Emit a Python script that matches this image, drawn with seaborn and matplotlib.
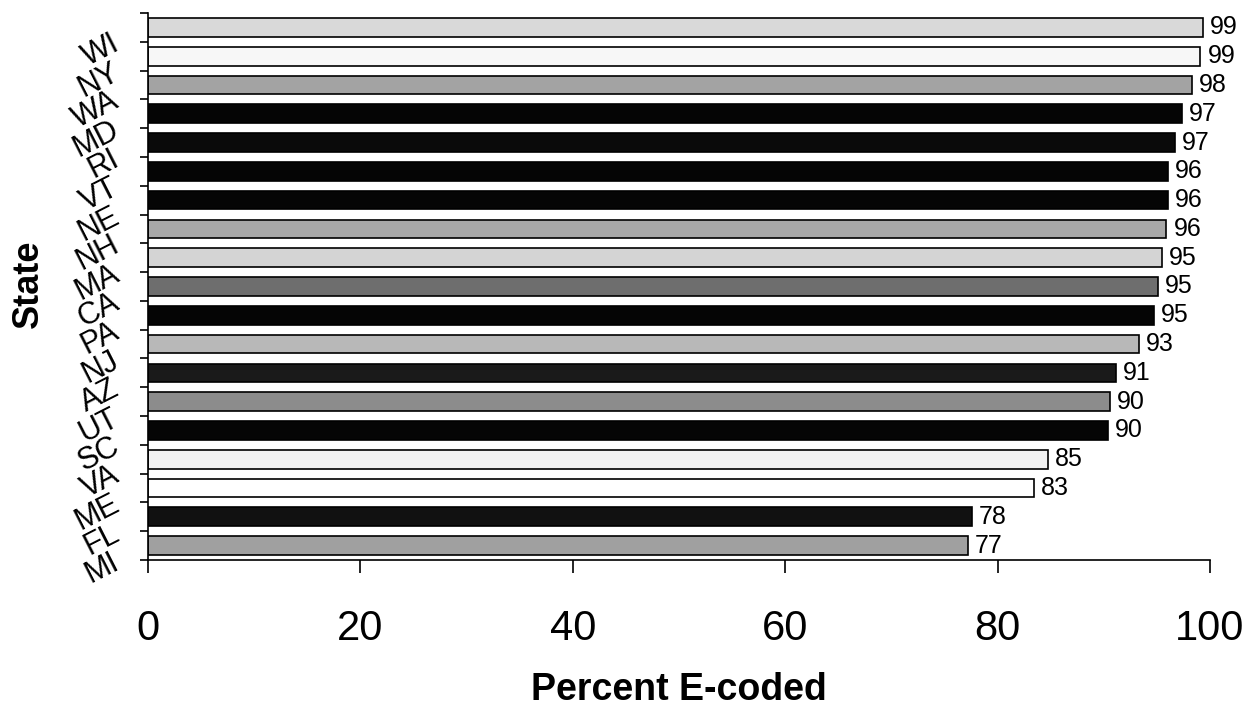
import numpy as np
import pandas as pd
import matplotlib
matplotlib.use("Agg")
import matplotlib.pyplot as plt
import seaborn as sns

# ---- data ----
states = ["WI", "NY", "WA", "MD", "RI", "VT", "NE", "NH", "MA", "CA",
          "PA", "NJ", "AZ", "UT", "SC", "VA", "ME", "FL", "MI"]
values = [99.3, 99.1, 98.3, 97.4, 96.7, 96.0, 96.0, 95.9, 95.5, 95.1,
          94.7, 93.3, 91.1, 90.6, 90.4, 84.7, 83.4, 77.6, 77.2]
value_labels = ["99", "99", "98", "97", "97", "96", "96", "96", "95", "95",
                "95", "93", "91", "90", "90", "85", "83", "78", "77"]
bar_colors = ["#d9d9d9", "#f7f7f7", "#a3a3a3", "#050505", "#0a0a0a", "#050505",
              "#050505", "#a8a8a8", "#d4d4d4", "#6e6e6e", "#050505", "#b8b8b8",
              "#1a1a1a", "#8c8c8c", "#050505", "#f2f2f2", "#ffffff", "#111111",
              "#a0a0a0"]
x_ticks = [0, 20, 40, 60, 80, 100]

df = pd.DataFrame({"State": states, "Percent": values})

sns.set_style("white")
plt.rcParams["font.family"] = ["Liberation Sans", "DejaVu Sans"]
plt.rcParams["text.color"] = "black"
plt.rcParams["axes.labelcolor"] = "black"
plt.rcParams["xtick.color"] = "black"
plt.rcParams["ytick.color"] = "black"

fig = plt.figure(figsize=(12.53, 7.06), dpi=100)
ax = fig.add_axes([0.1181, 0.2068, 0.8476, 0.7748])

sns.barplot(data=df, x="Percent", y="State", hue="State", palette=bar_colors,
            legend=False, orient="h", width=0.65, edgecolor="black",
            linewidth=1.2, saturation=1, ax=ax)

for cont, lab in zip(ax.containers, value_labels):
    ax.bar_label(cont, labels=[lab], padding=5, fontsize=18, color="black")

# axes styling
ax.set_xlim(0, 100)
ax.set_xticks(x_ticks)
ax.set_xticklabels([str(t) for t in x_ticks], fontsize=30, color="black")
ax.tick_params(axis="x", direction="out", length=9.5, width=1.2, pad=26,
               bottom=True, colors="black")

ax.set_yticks(np.arange(-0.5, len(states), 1.0))
ax.set_yticklabels([""] + states, fontsize=22, rotation=27, color="black",
                   ha="right", va="center", rotation_mode="anchor")
ax.tick_params(axis="y", direction="out", length=6, width=1.2, pad=16,
               left=True, colors="black")
ax.set_ylim(len(states) - 0.5, -0.5)

for side in ["top", "right"]:
    ax.spines[side].set_visible(False)
for side in ["left", "bottom"]:
    ax.spines[side].set_color("black")
    ax.spines[side].set_linewidth(1.2)

ax.set_xlabel("Percent E-coded", fontsize=27, fontweight="bold", labelpad=16,
              color="black")
ax.set_ylabel("State", fontsize=26, fontweight="bold", color="black")
ax.yaxis.set_label_coords(-0.096, 0.505)
ax.grid(False)

fig.savefig("out.png", dpi=100, facecolor="white")
